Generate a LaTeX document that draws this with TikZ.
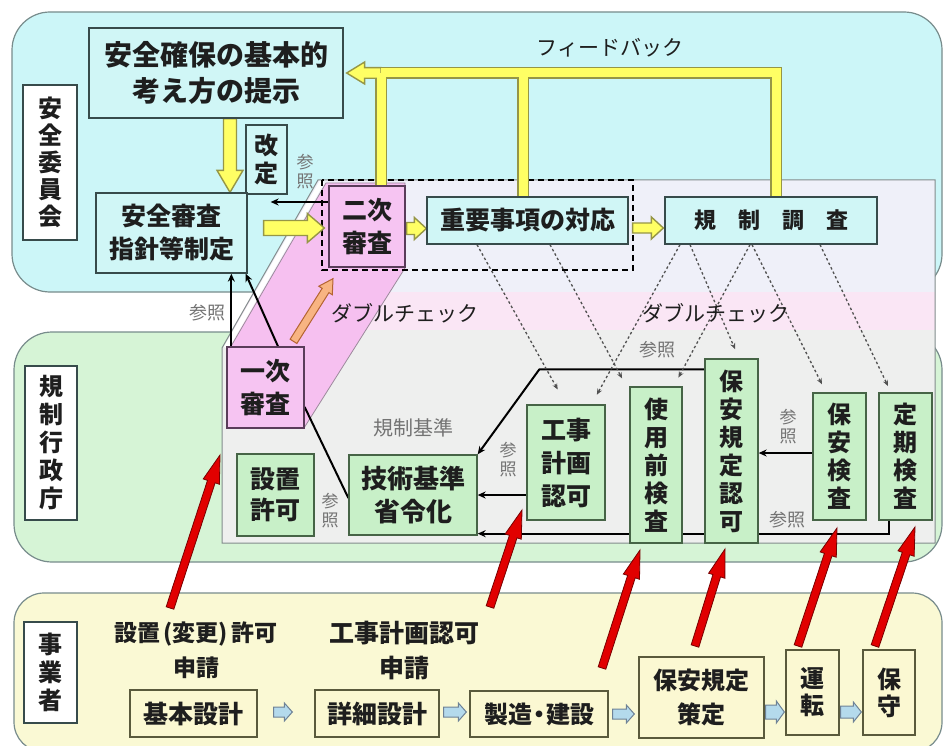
\documentclass[tikz,border=0pt]{standalone}
\usepackage{fontspec}
\setmainfont{Noto Sans CJK JP}
\newfontfamily\thinjp{Noto Sans CJK JP}
\usetikzlibrary{calc,arrows.meta}
\pgfdeclarelayer{bg}\pgfdeclarelayer{mid}
\pgfsetlayers{bg,mid,main}
\definecolor{blueBG}{RGB}{204,246,248}
\definecolor{greenBG}{RGB}{214,244,214}
\definecolor{yellowBG}{RGB}{250,249,212}
\definecolor{regline}{RGB}{120,140,140}
\definecolor{cyanbox}{RGB}{208,246,246}
\definecolor{boxline}{RGB}{55,75,75}
\definecolor{greenbox}{RGB}{200,240,200}
\definecolor{greenline}{RGB}{70,100,70}
\definecolor{pinkbox}{RGB}{246,196,242}
\definecolor{pinkline}{RGB}{90,60,90}
\definecolor{pinkpara}{RGB}{246,192,240}
\definecolor{yellowbox}{RGB}{251,248,210}
\definecolor{yellowline}{RGB}{90,90,60}
\definecolor{ovtop}{RGB}{239,240,249}
\definecolor{ovband}{RGB}{250,230,245}
\definecolor{ovlow}{RGB}{238,239,238}
\definecolor{ovline}{RGB}{130,140,140}
\definecolor{refgray}{RGB}{115,115,115}
\definecolor{dotgray}{RGB}{80,80,80}
\definecolor{yel}{RGB}{255,255,100}
\definecolor{yelline}{RGB}{150,150,70}
\definecolor{orangeA}{RGB}{248,180,130}
\definecolor{orangeB}{RGB}{180,100,50}
\definecolor{redA}{RGB}{225,0,0}
\definecolor{redB}{RGB}{120,0,0}
\definecolor{bluA}{RGB}{180,218,236}
\definecolor{bluB}{RGB}{110,130,150}
\definecolor{ink}{RGB}{30,30,30}
\newcommand{\fs}[2]{\fontsize{#1}{#2}\selectfont}
\newcommand{\barrow}[6]{%
 \coordinate (baH) at ($(#3)!#6pt!(#2)$);
 \filldraw[#1] ($(#2)!#4pt!90:(#3)$) -- ($(baH)!#4pt!-90:(#2)$) -- ($(baH)!#5pt!-90:(#2)$) -- (#3) -- ($(baH)!#5pt!90:(#2)$) -- ($(baH)!#4pt!90:(#2)$) -- ($(#2)!#4pt!-90:(#3)$) -- cycle;}
\tikzset{
 sz/.style 2 args={minimum width=#1pt, minimum height=#2pt},
 box/.style={draw=boxline, line width=1.3pt, inner sep=0pt, align=center, text=ink, font=\bfseries\fs{25}{33}},
 cy/.style={box, fill=cyanbox},
 gr/.style={box, fill=greenbox, draw=greenline},
 pk/.style={box, fill=pinkbox, draw=pinkline},
 yl/.style={box, fill=yellowbox, draw=yellowline},
 lbl/.style={box, fill=white},
 vtext/.style={font=\bfseries\fs{24}{28}},
 ref/.style={text=refgray, font=\thinjp\fs{18}{19}, inner sep=0pt, align=center},
 vref/.style={ref, font=\thinjp\fs{17}{19}},
 txt/.style={text=ink, font=\bfseries\fs{21}{24}, inner sep=0pt, align=center},
 blk/.style={draw=black, line width=2pt, -{Stealth[length=8pt,width=7pt]}},
 dot/.style={draw=dotgray, line width=1.3pt, dash pattern=on 2.5pt off 2.5pt, -{Stealth[length=6pt,width=5pt]}},
 yarr/.style={fill=yel, draw=yelline, line width=1.4pt},
 oarr/.style={fill=orangeA, draw=orangeB, line width=1pt},
 rarr/.style={fill=redA, draw=redB, line width=0.8pt},
 barr/.style={fill=bluA, draw=bluB, line width=1pt},
}
\begin{document}
\begin{tikzpicture}[x=1pt,y=-1pt]
\useasboundingbox (0,0) rectangle (944,746);
% ---------------- nodes ----------------
\node[lbl, sz={54}{155}, font=\bfseries\fs{24}{27}] (lblA) at (50,162.5) {安\\全\\委\\員\\会};
\node[cy, sz={254}{90}, font=\bfseries\fs{28}{36}] (kihon) at (216,73) {安全確保の基本的\\考え方の提示};
\node[cy, sz={41}{69}, font=\bfseries\fs{24}{28}] (kaitei) at (266.5,159.5) {改\\定};
\node[cy, sz={151}{80}] (shinsa) at (171.5,233) {安全審査\\指針等制定};
\node[pk, sz={76}{81}] (niji) at (367,226.5) {二次\\審査};
\node[cy, sz={201}{47}] (juyo) at (527.5,220.5) {重要事項の対応};
\node[cy, sz={212}{47}, font=\bfseries\fs{22}{26}] (kisei) at (771,220.5) {規　制　調　査};
\node[pk, sz={77}{81}] (ichiji) at (265.5,387.5) {一次\\審査};
\node[gr, sz={77}{82}, font=\bfseries\fs{25}{31}] (secchi) at (275.5,495) {設置\\許可};
\node[gr, sz={128}{80}, font=\bfseries\fs{26}{33}] (gijutsu) at (413,495) {技術基準\\省令化};
\node[gr, sz={78}{115}] (koji) at (566,462.5) {工事\\計画\\認可};
\node[gr, sz={52}{156}, vtext] (shiyo) at (656,465) {使\\用\\前\\検\\査};
\node[gr, sz={53}{184}, vtext] (hoankitei) at (731.5,451) {保\\安\\規\\定\\認\\可};
\node[gr, sz={53}{127}, vtext] (hoankensa) at (839.5,456.5) {保\\安\\検\\査};
\node[gr, sz={53}{127}, vtext] (teiki) at (905.5,456.5) {定\\期\\検\\査};
\node[lbl, sz={52}{154}, vtext] (lblB) at (51,443) {規\\制\\行\\政\\庁};
\node[lbl, sz={53}{101}, vtext] (lblC) at (50.5,672.5) {事\\業\\者};
\node[yl, sz={127}{47}] (b1) at (193.5,713.5) {基本設計};
\node[yl, sz={124}{47}] (b2) at (377,713.5) {詳細設計};
\node[yl, sz={138}{46}, font=\bfseries\fs{24}{28}] (b3) at (539,714) {製造\kern-5pt・\kern-5pt建設};
\node[yl, sz={125}{81}, font=\bfseries\fs{24}{34}] (b4) at (701.5,697.5) {保安規定\\策定};
\node[yl, sz={53}{85}, font=\bfseries\fs{24}{27}] (b5) at (812.5,692.5) {運\\転};
\node[yl, sz={52}{85}, font=\bfseries\fs{24}{27}] (b6) at (889,692.5) {保\\守};
% texts
\node[vref] (r1) at (305,172) {参\\照};
\node[ref] (r2) at (207,313) {参照};
\node[vref] (r3) at (330,511) {参\\照};
\node[ref] (r4) at (657,350) {参照};
\node[vref] (r5) at (508,460) {参\\照};
\node[vref] (r6) at (788,427) {参\\照};
\node[ref] (r7) at (787,520) {参照};
\node[ref, font=\thinjp\fs{20}{22}] (kk) at (413,428) {規制基準};
\node[txt, font=\thinjp\fs{21}{24}] (dc1) at (405,313) {ダブルチェック};
\node[txt, font=\thinjp\fs{21}{24}] (dc2) at (716,313) {ダブルチェック};
\node[txt, font=\thinjp\fs{21}{24}] (fb) at (610,48) {フィードバック};
\node[txt, font=\bfseries\fs{23}{35}] (app1) at (196,650) {設置\hspace{3pt}(変更)\hspace{3pt}許可\\申請};
\node[txt, font=\bfseries\fs{25}{35}] (app2) at (404,650) {工事計画認可\\申請};
% ---------------- background ----------------
\begin{pgfonlayer}{bg}
\fill[white] (0,0) rectangle (944,746);
\filldraw[fill=blueBG, draw=regline, line width=1.2pt, rounded corners=38pt] (12,12) rectangle (942,292);
\filldraw[fill=greenBG, draw=regline, line width=1.2pt, rounded corners=38pt] (14,332) rectangle (942,562);
\filldraw[fill=yellowBG, draw=regline, line width=1.2pt, rounded corners=30pt] (14,593) rectangle (942,752);
\begin{scope}
 \clip (318,180) -- (935,180) -- (935,543) -- (222,543) -- (222,348) -- cycle;
 \fill[ovtop] (200,170) rectangle (944,292);
 \fill[ovband] (200,292) rectangle (944,330);
 \fill[ovlow] (200,330) rectangle (944,550);
 \draw[white, line width=5pt] (226,348) -- (322,182);
\end{scope}
\draw[ovline, line width=1pt] (318,180) -- (935,180) -- (935,543) -- (222,543) -- (222,348) -- cycle;
\filldraw[fill=pinkpara, draw=pinkline!60, line width=0.8pt] (230,348) -- (326,183) -- (405,183) -- (405,268) -- (304,428) -- (230,428) -- cycle;
\end{pgfonlayer}
% ---------------- connectors ----------------
\begin{pgfonlayer}{mid}
\draw[black, line width=1.5pt, dash pattern=on 6pt off 4pt] (322,180) rectangle (633,270);
% feedback
\coordinate (f1) at ($(niji.north)+(14,0)$);
\coordinate (f3) at ($(juyo.north)+(-4.5,0)$);
\coordinate (f4) at ($(kisei.north)+(5,0)$);
\coordinate (fh) at (f1 |- kihon.east);
\coordinate (ft) at ($(kihon.east)+(3,0)$);
\draw[yelline, line width=12pt, line join=miter] (f1) -- (fh) (f3) -- (f3 |- fh) (f4) |- (fh);
\barrow{yarr}{fh}{ft}{5.3}{11}{18}
\draw[yel, line width=9pt, line join=miter] (f1) -- (fh) (f3) -- (f3 |- fh) (f4) |- (fh);
% yellow block arrows
\coordinate (y1s) at ($(kihon.south)+(14,0)$);
\coordinate (y1e) at (y1s |- shinsa.north);
\barrow{yarr}{y1s}{y1e}{6.5}{13}{22}
\coordinate (y2s) at ($(shinsa.east)+(16,-5)$);
\coordinate (y2e) at ($(y2s -| niji.west)+(-4,0)$);
\barrow{yarr}{y2s}{y2e}{7.5}{14.5}{17}
\coordinate (y3s) at ($(niji.east)+(1,2)$);
\coordinate (y3e) at (y3s -| juyo.west);
\barrow{yarr}{y3s}{y3e}{6}{11}{12}
\coordinate (y4s) at ($(juyo.east)+(4,7.5)$);
\coordinate (y4e) at ($(y4s -| kisei.west)+(-1,0)$);
\barrow{yarr}{y4s}{y4e}{5}{11}{12}
% orange
\coordinate (o1) at ($(ichiji.north)+(28,-5)$);
\coordinate (o2) at ($(niji.south)+(-34,11)$);
\barrow{oarr}{o1}{o2}{4}{8}{14}
% black arrows
\draw[blk] ($(niji.west)+(0,-24.5)$) -- ($(shinsa.east)+(23,-31)$);
\coordinate (k1) at ($(ichiji.north west)+(5,0)$);
\draw[blk] (k1) -- (k1 |- shinsa.south);
\draw[blk] ($(ichiji.north)+(12.5,0)$) -- ($(shinsa.south east)+(-2,0)$);
\draw[black, line width=2pt] ($(ichiji.east)+(0,19.5)$) -- ($(gijutsu.west)+(0,3)$);
\draw[blk, line join=round] ($(hoankitei.north west)+(0,11)$) -- ++(-165,0) -- (gijutsu.north east);
\draw[blk] (koji.west |- gijutsu.east) -- (gijutsu.east);
\draw[blk] ($(teiki.south)+(-16.5,0)$) |- ($(gijutsu.south east)+(0,-2)$);
\coordinate (h1) at ($(hoankensa.west)+(0,-3.5)$);
\draw[blk] (h1) -- (h1 -| hoankitei.east);
% dotted
\draw[dot, shorten >=17pt] ($(juyo.south)+(-50.5,0)$) -- (koji.north);
\draw[dot, shorten >=9pt] ($(juyo.south)+(22.5,0)$) -- ($(shiyo.north west)+(-3,0)$);
\draw[dot, shorten >=11pt] ($(kisei.south)+(-91,0)$) -- ($(koji.north)+(25.5,0)$);
\draw[dot, shorten >=10pt] ($(kisei.south)+(-81,0)$) -- ($(hoankitei.north)+(7.5,0)$);
\draw[dot, shorten >=10pt] ($(kisei.south)+(-21,0)$) -- ($(shiyo.north east)+(-9,0)$);
\draw[dot, shorten >=9pt] ($(kisei.south)+(-19,0)$) -- ($(hoankensa.north)+(-13.5,0)$);
\draw[dot, shorten >=7pt] ($(kisei.south)+(49,0)$) -- ($(teiki.north)+(-14.5,0)$);
% red arrows
\coordinate (rs1) at (170,608); \coordinate (re1) at (220,455);
\coordinate (rs2) at (490,607); \coordinate (re2) at (522,510);
\coordinate (rs3) at (602,668); \coordinate (re3) at (640,550);
\coordinate (rs4) at (695,646); \coordinate (re4) at (725,549);
\coordinate (rs5) at (798,646); \coordinate (re5) at (837,528);
\coordinate (rs6) at (875,646); \coordinate (re6) at (915,527);
\barrow{rarr}{rs1}{re1}{4}{8.5}{28}
\barrow{rarr}{rs2}{re2}{4}{8.5}{28}
\barrow{rarr}{rs3}{re3}{4}{8.5}{28}
\barrow{rarr}{rs4}{re4}{4}{8.5}{28}
\barrow{rarr}{rs5}{re5}{4}{8.5}{28}
\barrow{rarr}{rs6}{re6}{4}{8.5}{28}
% small process arrows
\coordinate (s1) at ($(b1.east)+(16,-1.5)$); \coordinate (e1) at ($(b2.west)+(-22,-1.5)$);
\coordinate (s2) at ($(b2.east)+(4,-1.5)$); \coordinate (e2) at ($(b3.west)+(-3,-2)$);
\coordinate (s3) at ($(b3.east)+(4,0)$); \coordinate (e3) at ($(b4.west)+(-4,16.5)$);
\coordinate (s4) at ($(b4.east)+(1,14.5)$); \coordinate (e4) at ($(b5.west)+(-1,19.5)$);
\coordinate (s5) at ($(b5.east)+(1,19.5)$); \coordinate (e5) at ($(b6.west)+(-1,19.5)$);
\barrow{barr}{s1}{e1}{5}{9}{8}
\barrow{barr}{s2}{e2}{5}{9}{8}
\barrow{barr}{s3}{e3}{5}{9}{8}
\barrow{barr}{s4}{e4}{7}{11}{8}
\barrow{barr}{s5}{e5}{6}{10}{8}
\end{pgfonlayer}
\end{tikzpicture}
\end{document}
